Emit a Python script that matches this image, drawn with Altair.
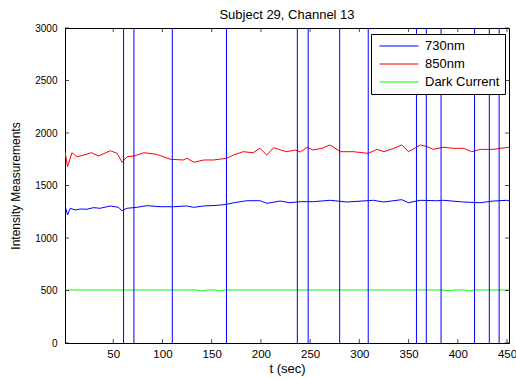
import altair as alt
import pandas as pd

# ---- data ----
series_names = ["730nm", "850nm", "Dark Current"]
series_colors = ["#0000ff", "#ff0000", "#00ff00"]

t_730 = [1, 3.6, 6.3, 11.4, 16.5, 23.3, 30, 36.8, 46.9, 55.4, 58.8, 63.9, 74, 84.2,
         97.7, 111.3, 124.8, 131.6, 141.7, 155.3, 165.4, 172.2, 185.7, 199.3, 206,
         219.6, 229.7, 239.9, 253.4, 270.3, 287.2, 314.3, 324.5, 343.1, 349.9, 361.7,
         378.6, 385.4, 405.7, 422.7, 436.2, 449.8, 452]
v_730 = [1314, 1219, 1283, 1267, 1276, 1274, 1289, 1283, 1305, 1292, 1260, 1283, 1292, 1308,
         1298, 1298, 1305, 1292, 1305, 1311, 1321, 1336, 1355, 1355, 1330,
         1352, 1336, 1346, 1346, 1359, 1343, 1359, 1343, 1365, 1336, 1359,
         1355, 1359, 1343, 1336, 1352, 1359, 1355]

t_850 = [1, 3.6, 8, 13, 20, 28, 35, 47, 54, 59, 64, 71, 81, 94, 108, 121, 125, 132, 142,
         152, 165, 172, 182, 192, 199, 206, 213, 220, 226, 235, 240, 247, 253, 262, 270,
         281, 294, 309, 318, 325, 335, 343, 350, 362, 369, 375, 385, 396, 406, 414, 423,
         436, 443, 452]
v_850 = [1822, 1679, 1812, 1774, 1790, 1812, 1781, 1831, 1806, 1721, 1774, 1781, 1812, 1797,
         1750, 1743, 1759, 1721, 1743, 1743, 1759, 1790, 1822, 1812, 1854, 1790, 1860, 1838,
         1822, 1838, 1819, 1864, 1838, 1854, 1886, 1822, 1822, 1806, 1844, 1822, 1854, 1886,
         1822, 1886, 1870, 1844, 1864, 1854, 1854, 1822, 1844, 1844, 1854, 1864]

t_dark = [1, 135, 140, 145, 153, 158, 163, 386, 391, 396, 407, 412, 417, 452]
v_dark = [505, 505, 495, 505, 505, 495, 505, 505, 497, 505, 505, 495, 505, 505]

event_times = [60.5, 71, 110, 165, 237, 248, 280, 309, 358, 368, 383, 417, 432, 442]

x_ticks = [50, 100, 150, 200, 250, 300, 350, 400, 450]
y_ticks = [0, 500, 1000, 1500, 2000, 2500, 3000]

FONT = "Liberation Sans"

rows = []
for name, ts, vs in [("730nm", t_730, v_730), ("850nm", t_850, v_850),
                     ("Dark Current", t_dark, v_dark)]:
    for t, v in zip(ts, vs):
        rows.append({"t": t, "value": v, "series": name})
df = pd.DataFrame(rows)

x_scale = alt.Scale(domain=[1, 452], nice=False, zero=False)
y_scale = alt.Scale(domain=[0, 3000], nice=False, zero=False)

x_axis = alt.Axis(title="t (sec)", values=x_ticks, format="d", ticks=False, tickSize=0,
                  grid=False, labelFontSize=11.5, labelPadding=5, labelFont=FONT,
                  labelColor="black", titleFont=FONT, titleColor="black",
                  titleFontWeight="normal", domainColor="black", domainWidth=1,
                  titleFontSize=13, titlePadding=3, labelFlush=False)
y_axis = alt.Axis(title="Intensity Measurements", values=y_ticks, format="d", ticks=False,
                  tickSize=0, grid=False, labelFontSize=10, labelPadding=8, labelFont=FONT,
                  labelColor="black", titleFont=FONT, titleColor="black",
                  titleFontWeight="normal", domainColor="black", domainWidth=1,
                  titleFontSize=12, titlePadding=12, labelFlush=False)

lines = alt.Chart(df).mark_line(strokeWidth=1, clip=True).encode(
    x=alt.X("t:Q", scale=x_scale, axis=x_axis),
    y=alt.Y("value:Q", scale=y_scale, axis=y_axis),
    color=alt.Color("series:N",
                    scale=alt.Scale(domain=series_names, range=series_colors),
                    legend=alt.Legend(title=None, orient="none", legendX=306, legendY=6,
                                      strokeColor="black", fillColor="white", padding=5,
                                      cornerRadius=0,
                                      symbolType="M -0.538 0 H 5.462", symbolSize=169,
                                      symbolStrokeWidth=1, labelOffset=35, rowPadding=4,
                                      labelFontSize=13, labelFont=FONT, labelColor="black")),
)

events = alt.Chart(pd.DataFrame({"t": event_times})).mark_rule(
    color="#0000ff", strokeWidth=1).encode(
    x=alt.X("t:Q", scale=x_scale, axis=x_axis))

xt = pd.DataFrame({"t": x_ticks})
yt = pd.DataFrame({"value": y_ticks})
tick_bottom = alt.Chart(xt).mark_tick(color="black", thickness=1, size=4).encode(
    x=alt.X("t:Q", scale=x_scale, axis=x_axis), y=alt.value(313))
tick_top = alt.Chart(xt).mark_tick(color="black", thickness=1, size=4).encode(
    x=alt.X("t:Q", scale=x_scale, axis=x_axis), y=alt.value(2))
tick_left = alt.Chart(yt).mark_tick(color="black", thickness=1, size=4).encode(
    y=alt.Y("value:Q", scale=y_scale, axis=y_axis), x=alt.value(2))
tick_right = alt.Chart(yt).mark_tick(color="black", thickness=1, size=4).encode(
    y=alt.Y("value:Q", scale=y_scale, axis=y_axis), x=alt.value(442))

chart = alt.layer(lines, events, tick_bottom, tick_top, tick_left, tick_right).properties(
    width=444, height=315,
    background="white",
    title=alt.TitleParams("Subject 29, Channel 13", fontSize=13, font=FONT,
                          fontWeight="normal", color="black", offset=1),
    autosize=alt.AutoSizeParams(type="none"),
    padding={"left": 65, "top": 28, "right": 7, "bottom": 36},
).configure_view(stroke="black", strokeWidth=1)

chart.save("out.html", embed_options={"renderer": "svg", "actions": False})
